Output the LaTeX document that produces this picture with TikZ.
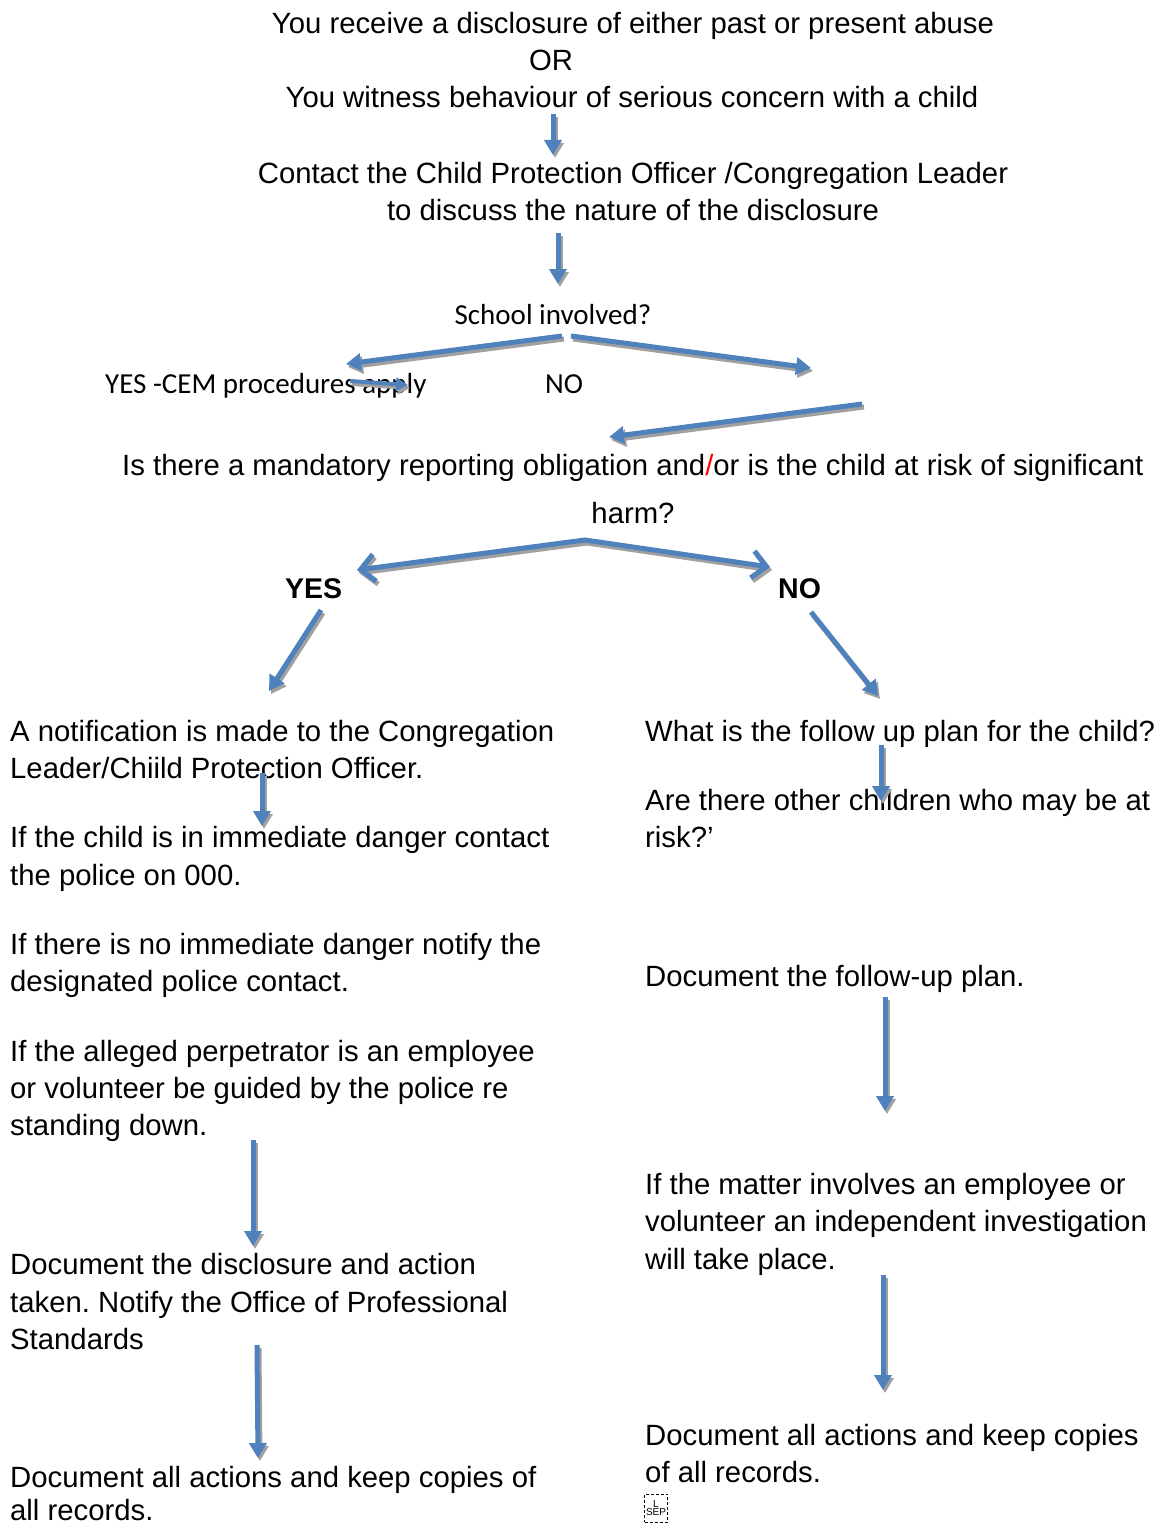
\documentclass[tikz,border=0pt]{standalone}
\usepackage{fontspec}
\setmainfont{Liberation Sans}
\newfontfamily\calfont{Carlito}
\usetikzlibrary{arrows.meta}
\definecolor{arrblue}{HTML}{4F81BD}
\definecolor{shgray}{HTML}{A0A0A0}
\definecolor{slashred}{HTML}{FF0000}
\frenchspacing
\newcommand\sharrow[3][]{%
  \draw[arrshadow,#1] ([shift={(2,3)}]#2) -- ([shift={(2,3)}]#3);
  \draw[arrmain,#1] (#2) -- (#3);}
\begin{document}
\begin{tikzpicture}[x=1pt,y=-1pt,
  txt/.style={inner sep=0pt, anchor=base west, font=\fontsize{29.3}{37}\selectfont},
  ctxt/.style={txt, anchor=base},
  btxt/.style={txt, font=\fontsize{28.5}{37}\selectfont\bfseries},
  cal/.style={inner sep=0pt, anchor=base, font=\calfont\fontsize{29}{35}\selectfont},
  arrmain/.style={draw=arrblue, line width=5pt, -{Triangle[length=15pt,width=17pt]}},
  arrshadow/.style={draw=shgray, line width=5pt, -{Triangle[length=15pt,width=17pt]}},
  smallarr/.style={line width=4pt, -{Triangle[length=12pt,width=13pt]}},
  barbmain/.style={draw=arrblue, line width=5pt, line join=miter, {Straight Barb[length=14pt,width=27pt]}-{Straight Barb[length=14pt,width=27pt]}},
  barbshadow/.style={draw=shgray, line width=5pt, line join=miter, {Straight Barb[length=14pt,width=27pt]}-{Straight Barb[length=14pt,width=27pt]}},
  sepbox/.style={draw, densely dashed, line width=0.9pt, inner sep=0pt, minimum width=23pt, minimum height=28pt, align=center, font=\fontsize{10}{10}\selectfont}
]
\useasboundingbox (0,0) rectangle (1161,1525);

% top block
\node[ctxt] (t1) at (633,34) {You receive a disclosure of either past or present abuse};
\node[ctxt] (t2) at (551,71) {OR};
\node[ctxt] (t3) at (632,108) {You witness behaviour of serious concern with a child};
\node[ctxt] (t4) at (633,183) {Contact the Child Protection Officer /Congregation Leader};
\node[ctxt] (t5) at (633,220) {to discuss the nature of the disclosure};
\node[cal] (s1) at (553,324) {School involved?};
\node[cal, anchor=base west] (yesc) at (105,393) {YES -CEM procedures apply};
\node[cal, anchor=base west] (noc) at (545,393) {NO};
\node[txt] (q1) at (122,475) {Is there a mandatory reporting obligation and{\color{slashred}/}or is the child at risk of significant};
\node[ctxt] (q2) at (633,523) {harm?};
\node[btxt] (yes) at (285,598) {YES};
\node[btxt] (no) at (778,598) {NO};

% left column
\node[txt] (l1) at (10,741) {A notification is made to the Congregation};
\node[txt] (l2) at (10,778) {Leader/Chiild Protection Officer.};
\node[txt] (l3) at (10,847) {If the child is in immediate danger contact};
\node[txt] (l4) at (10,885) {the police on 000.};
\node[txt] (l5) at (10,954) {If there is no immediate danger notify the};
\node[txt] (l6) at (10,991) {designated police contact.};
\node[txt] (l7) at (10,1061) {If the alleged perpetrator is an employee};
\node[txt] (l8) at (10,1098) {or volunteer be guided by the police re};
\node[txt] (l9) at (10,1135) {standing down.};
\node[txt] (l10) at (10,1274) {Document the disclosure and action};
\node[txt] (l11) at (10,1312) {taken. Notify the Office of Professional};
\node[txt] (l12) at (10,1349) {Standards};
\node[txt] (l13) at (10,1487) {Document all actions and keep copies of};
\node[txt, text depth=0pt] (l14) at (10,1520) {all records.};

% right column
\node[txt] (r1) at (645,741) {What is the follow up plan for the child?};
\node[txt] (r2) at (645,810) {Are there other children who may be at};
\node[txt] (r3) at (645,847) {risk?’};
\node[txt] (r4) at (645,986) {Document the follow-up plan.};
\node[txt] (r5) at (645,1194) {If the matter involves an employee or};
\node[txt] (r6) at (645,1231) {volunteer an independent investigation};
\node[txt] (r7) at (645,1269) {will take place.};
\node[txt] (r8) at (645,1445) {Document all actions and keep copies};
\node[txt] (r9) at (645,1482) {of all records.};
\node[sepbox] (sep) at (656,1508) {L\\[-2pt]SEP};

% arrow coordinates
\coordinate (a1s) at (553,114); \coordinate (a1e) at (553,155);
\coordinate (a2s) at (558,233); \coordinate (a2e) at (558,284);
\coordinate (a3s) at (562,336); \coordinate (a3e) at (346,364);
\coordinate (a4s) at (571,336); \coordinate (a4e) at (811,368);
\coordinate (a5s) at (350,381); \coordinate (a5e) at (408,385);
\coordinate (a6s) at (862,404); \coordinate (a6e) at (609,437);
\coordinate (hl) at (357,570); \coordinate (hapex) at (585,540); \coordinate (hr) at (770,567);
\coordinate (a7s) at (321,610); \coordinate (a7e) at (269,691);
\coordinate (a8s) at (811,612); \coordinate (a8e) at (878,696);
\coordinate (a9s) at (262,773); \coordinate (a9e) at (262,826);
\coordinate (a10s) at (253,1140); \coordinate (a10e) at (253,1246);
\coordinate (a11s) at (257,1345); \coordinate (a11e) at (258,1458);
\coordinate (a12s) at (881,745); \coordinate (a12e) at (881,801);
\coordinate (a13s) at (885,997); \coordinate (a13e) at (885,1111);
\coordinate (a14s) at (883,1275); \coordinate (a14e) at (883,1390);

\sharrow{a1s}{a1e}
\sharrow{a2s}{a2e}
\sharrow{a3s}{a3e}
\sharrow{a4s}{a4e}
\sharrow[smallarr]{a5s}{a5e}
\sharrow{a6s}{a6e}
\draw[barbshadow] ([shift={(2,3)}]hl) -- ([shift={(2,3)}]hapex) -- ([shift={(2,3)}]hr);
\draw[barbmain] (hl) -- (hapex) -- (hr);
\sharrow{a7s}{a7e}
\sharrow{a8s}{a8e}
\sharrow{a9s}{a9e}
\sharrow{a10s}{a10e}
\sharrow{a11s}{a11e}
\sharrow{a12s}{a12e}
\sharrow{a13s}{a13e}
\sharrow{a14s}{a14e}
\end{tikzpicture}
\end{document}
